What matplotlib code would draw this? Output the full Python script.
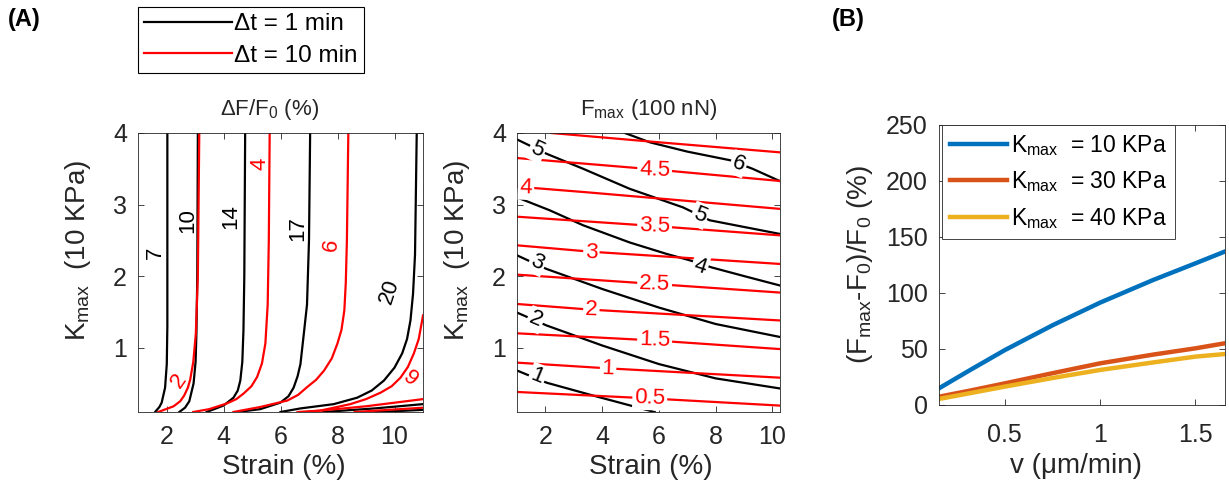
import matplotlib
matplotlib.use('Agg')
import matplotlib.pyplot as plt
from matplotlib.lines import Line2D

plt.rcParams['font.family'] = ['Liberation Sans', 'DejaVu Sans']
plt.rcParams['mathtext.fontset'] = 'custom'
plt.rcParams['mathtext.rm'] = 'Liberation Sans'
plt.rcParams['mathtext.it'] = 'Liberation Sans:italic'
plt.rcParams['mathtext.bf'] = 'Liberation Sans:bold'

GRAY = '#262626'

# ---- (A) left: dF/F0 (%) contours, x = strain (%), y = Kmax (10 KPa) ----
# dt = 1 min (black)
dF_1min_7 = [(1.60, 0.10), (1.75, 0.17), (1.83, 0.23), (1.95, 0.44), (2.01, 0.77), (2.03, 1.30), (2.03, 4.0)]
dF_1min_10 = [(2.45, 0.10), (2.65, 0.16), (2.80, 0.25), (2.95, 0.50), (3.02, 0.80), (3.05, 1.20),
              (3.08, 2.0), (3.10, 4.0)]
dF_1min_14 = [(3.41, 0.10), (4.0, 0.19), (4.35, 0.30), (4.50, 0.40), (4.59, 0.54), (4.66, 0.80),
              (4.70, 1.24), (4.73, 2.0), (4.76, 4.0)]
dF_1min_17 = [(4.50, 0.10), (5.29, 0.14), (5.99, 0.23), (6.28, 0.32), (6.46, 0.44), (6.60, 0.60),
              (6.70, 0.77), (6.82, 1.20), (6.93, 1.60), (7.0, 2.50), (7.04, 4.0)]
dF_1min_20 = [(6.0, 0.10), (6.70, 0.15), (7.87, 0.21), (8.69, 0.30), (9.20, 0.40), (9.63, 0.54),
              (10.0, 0.72), (10.27, 0.92), (10.44, 1.12), (10.56, 1.38), (10.65, 1.75), (10.72, 2.30),
              (10.78, 4.0)]
dF_1min_b1 = [(7.5, 0.10), (9.3, 0.15), (11.0, 0.21)]
dF_1min_b2 = [(9.3, 0.10), (10.2, 0.115), (11.0, 0.13)]
# dt = 10 min (red)
dF_10min_2 = [(1.71, 0.10), (2.25, 0.18), (2.48, 0.25), (2.62, 0.33), (2.75, 0.44), (2.83, 0.55),
              (2.94, 0.80), (3.03, 1.20), (3.10, 2.0), (3.15, 4.0)]
dF_10min_4 = [(2.94, 0.10), (3.50, 0.14), (4.12, 0.22), (4.45, 0.28), (4.71, 0.36), (4.98, 0.46),
              (5.18, 0.59), (5.35, 0.78), (5.47, 1.06), (5.55, 1.60), (5.59, 2.50), (5.62, 4.0)]
dF_10min_6 = [(4.35, 0.10), (5.29, 0.17), (6.24, 0.26), (6.62, 0.34), (6.94, 0.45), (7.25, 0.55),
              (7.53, 0.68), (7.80, 0.85), (8.0, 1.06), (8.14, 1.25), (8.24, 1.52), (8.29, 1.90),
              (8.33, 2.50), (8.38, 4.0)]
dF_10min_9 = [(6.6, 0.10), (7.40, 0.12), (8.45, 0.21), (9.0, 0.28), (9.51, 0.37), (9.90, 0.46),
              (10.21, 0.58), (10.47, 0.73), (10.68, 0.92), (10.85, 1.12), (10.97, 1.38), (11.0, 1.45)]
dF_10min_b1 = [(6.9, 0.10), (9.0, 0.18), (11.0, 0.28)]
dF_10min_b2 = [(8.6, 0.10), (9.8, 0.13), (11.0, 0.16)]

dF_1min_labels = [(1.62, 2.32, '7', 90), (2.74, 2.78, '10', 90), (4.24, 2.83, '14', 90),
                  (6.61, 2.66, '17', 90), (9.84, 1.78, '20', 72)]
dF_10min_labels = [(2.44, 0.53, '2', 55), (5.29, 3.57, '4', 90), (7.79, 2.43, '6', 82),
                   (10.54, 0.57, '9', -40)]

# ---- (A) right: Fmax (100 nN) contours ----
Fm_1min_1 = [(1.0, 0.68), (2.04, 0.51), (3.68, 0.33), (5.85, 0.10)]
Fm_1min_2 = [(1.0, 1.49), (2.04, 1.31), (4.0, 1.03), (6.0, 0.77), (8.0, 0.57), (10.25, 0.43)]
Fm_1min_3 = [(1.0, 2.29), (2.04, 2.10), (4.0, 1.82), (6.0, 1.56), (8.0, 1.33), (10.25, 1.15)]
Fm_1min_4 = [(1.0, 3.10), (2.15, 2.92), (3.33, 2.71), (4.97, 2.47), (6.27, 2.31), (7.09, 2.22),
             (7.87, 2.12), (9.0, 2.0), (10.25, 1.87)]
Fm_1min_5 = [(1.0, 3.91), (2.04, 3.71), (3.33, 3.50), (4.97, 3.22), (6.85, 2.96), (7.79, 2.78),
             (10.25, 2.59)]
Fm_1min_6 = [(4.80, 4.0), (5.68, 3.87), (7.0, 3.74), (8.5, 3.62), (9.3, 3.50), (10.25, 3.33)]
Fm_10min_05 = [(1.0, 0.38), (5.68, 0.29), (10.25, 0.19)]
Fm_10min_1 = [(1.0, 0.79), (4.21, 0.71), (10.25, 0.58)]
Fm_10min_15 = [(1.0, 1.20), (5.85, 1.10), (10.25, 0.98)]
Fm_10min_2 = [(1.0, 1.61), (3.62, 1.53), (10.25, 1.38)]
Fm_10min_25 = [(1.0, 2.02), (5.85, 1.89), (10.25, 1.77)]
Fm_10min_3 = [(1.0, 2.43), (3.62, 2.34), (10.25, 2.17)]
Fm_10min_35 = [(1.0, 2.83), (5.85, 2.70), (10.25, 2.57)]
Fm_10min_4 = [(1.0, 3.25), (3.5, 3.17), (10.25, 2.94)]
Fm_10min_45 = [(1.0, 3.65), (5.85, 3.49), (10.25, 3.33)]
Fm_10min_5 = [(2.21, 4.0), (6.0, 3.87), (10.25, 3.73)]

Fm_1min_labels = [(1.72, 0.60, '1', -22), (1.65, 1.39, '2', -23), (1.72, 2.19, '3', -24),
                  (1.72, 3.77, '5', -25), (7.44, 2.13, '4', -18), (7.44, 2.85, '5', -22),
                  (8.81, 3.57, '6', -21)]
Fm_10min_labels = [(5.68, 0.30, '0.5', -2), (4.21, 0.71, '1', -2), (5.85, 1.10, '1.5', -2),
                   (3.62, 1.53, '2', -2), (5.85, 1.89, '2.5', -2), (3.62, 2.33, '3', -2),
                   (5.85, 2.70, '3.5', -2), (1.32, 3.24, '4', -2), (5.85, 3.48, '4.5', -2)]

# ---- (B) (Fmax-F0)/F0 (%) vs v (um/min) ----
v = [0.155, 0.316, 0.5, 0.753, 1.0, 1.278, 1.5, 1.654]
gain_k10 = [14.9, 31.0, 49.0, 71.4, 91.4, 111.6, 126.5, 137.0]
gain_k30 = [7.4, 12.8, 19.3, 28.5, 37.2, 45.0, 50.6, 55.1]
gain_k40 = [5.4, 10.5, 16.4, 24.2, 31.3, 38.0, 43.2, 45.5]
kmax_labels = [r'K$_\mathregular{max}$  = 10 KPa', r'K$_\mathregular{max}$  = 30 KPa',
               r'K$_\mathregular{max}$  = 40 KPa']
kmax_colors = ['#0072BD', '#D95319', '#EDB120']


def style_axes(ax, xpad, ypad):
    ax.tick_params(direction='in', length=4, width=0.6, top=True, right=True,
                   colors=GRAY, labelsize=18)
    ax.tick_params(axis='x', pad=xpad)
    ax.tick_params(axis='y', pad=ypad)
    for s in ax.spines.values():
        s.set_color(GRAY)
        s.set_linewidth(0.6)


def draw_lines(ax, lines, color):
    for pts in lines:
        xs, ys = zip(*pts)
        ax.plot(xs, ys, color=color, lw=1.6)


fig = plt.figure(figsize=(12.29, 4.87), dpi=100)
W, H = 1229.0, 487.0

# panel A left
ax1 = fig.add_axes([138 / W, 1 - 412 / H, 285 / W, 279 / H])
draw_lines(ax1, [dF_1min_7, dF_1min_10, dF_1min_14, dF_1min_17, dF_1min_20, dF_1min_b1, dF_1min_b2], 'k')
draw_lines(ax1, [dF_10min_2, dF_10min_4, dF_10min_6, dF_10min_9, dF_10min_b1, dF_10min_b2], 'r')
for x, y, t, r in dF_1min_labels:
    ax1.text(x, y, t, color='k', fontsize=16, rotation=r, ha='center', va='center')
for x, y, t, r in dF_10min_labels:
    ax1.text(x, y, t, color='r', fontsize=16, rotation=r, ha='center', va='center')
ax1.set_xlim(1, 11)
ax1.set_ylim(0.1, 4)
ax1.set_xticks([2, 4, 6, 8, 10])
ax1.set_yticks([1, 2, 3, 4])
style_axes(ax1, 9.5, 8)
ax1.set_title('ΔF/F$_\\mathregular{0}$ (%)', fontsize=16, color=GRAY, pad=13, x=0.46)
ax1.set_xlabel('Strain (%)', fontsize=20, color=GRAY)
ax1.xaxis.set_label_coords(0.51, -0.15)
ax1.set_ylabel(r'K$_\mathregular{max}$  (10 KPa)', fontsize=20, color=GRAY)
ax1.yaxis.set_label_coords(-45 / 285, 0.58)

# panel A right
ax2 = fig.add_axes([517 / W, 1 - 412 / H, 262.5 / W, 279 / H])
draw_lines(ax2, [Fm_1min_1, Fm_1min_2, Fm_1min_3, Fm_1min_4, Fm_1min_5, Fm_1min_6], 'k')
draw_lines(ax2, [Fm_10min_05, Fm_10min_1, Fm_10min_15, Fm_10min_2, Fm_10min_25,
                 Fm_10min_3, Fm_10min_35, Fm_10min_4, Fm_10min_45, Fm_10min_5], 'r')
box = dict(facecolor='white', edgecolor='none', pad=1.5)
for x, y, t, r in Fm_1min_labels:
    ax2.text(x, y, t, color='k', fontsize=16, rotation=r, ha='center', va='center', bbox=box)
for x, y, t, r in Fm_10min_labels:
    ax2.text(x, y, t, color='r', fontsize=16, rotation=r, ha='center', va='center', bbox=box)
ax2.set_xlim(1, 10.25)
ax2.set_ylim(0.1, 4)
ax2.set_xticks([2, 4, 6, 8, 10])
ax2.set_yticks([1, 2, 3, 4])
style_axes(ax2, 9.5, 8)
ax2.set_title('F$_\\mathregular{max}$ (100 nN)', fontsize=16, color=GRAY, pad=13)
ax2.set_xlabel('Strain (%)', fontsize=20, color=GRAY)
ax2.xaxis.set_label_coords(0.51, -0.15)
ax2.set_ylabel(r'K$_\mathregular{max}$  (10 KPa)', fontsize=20, color=GRAY)
ax2.yaxis.set_label_coords(-45 / 262.5, 0.58)

# panel B
ax3 = fig.add_axes([939 / W, 1 - 405 / H, 286 / W, 280 / H])
for ys, lab, c in zip([gain_k10, gain_k30, gain_k40], kmax_labels, kmax_colors):
    ax3.plot(v, ys, color=c, lw=3.2, label=lab)
ax3.set_xlim(0.155, 1.655)
ax3.set_ylim(0, 250)
ax3.set_xticks([0.5, 1, 1.5])
ax3.set_xticklabels(['0.5', '1', '1.5'])
ax3.set_yticks([0, 50, 100, 150, 200, 250])
style_axes(ax3, 13, 8)
ax3.set_xlabel('v (μm/min)', fontsize=20, color=GRAY)
ax3.xaxis.set_label_coords(0.48, -0.17)
ax3.set_ylabel(r'(F$_\mathregular{max}$-F$_\mathregular{0}$)/F$_\mathregular{0}$ (%)', fontsize=20, color=GRAY)
ax3.yaxis.set_label_coords(-64 / 286, 0.5)
legB = ax3.legend(loc='upper left', bbox_to_anchor=(0.01, 1.0), borderaxespad=0, fontsize=16.5,
                  handlelength=2.5, handletextpad=0.15, labelspacing=0.5, borderpad=0.35,
                  fancybox=False, edgecolor=GRAY, framealpha=1)
legB.get_frame().set_linewidth(0.6)

# legend for panel A
hA = [Line2D([], [], color='k', lw=1.6), Line2D([], [], color='r', lw=1.6)]
legA = fig.legend(hA, ['Δt = 1 min', 'Δt = 10 min'], loc='upper left',
                  bbox_to_anchor=(138 / W, 1 - 7 / H), borderaxespad=0, fontsize=17.5,
                  handlelength=3.6, handletextpad=0.12, labelspacing=0.4, borderpad=0.25,
                  fancybox=False, edgecolor='k', framealpha=1)
legA.get_frame().set_linewidth(0.8)

fig.text(8 / W, 1 - 8 / H, '(A)', fontsize=17, fontweight='bold', ha='left', va='top')
fig.text(832 / W, 1 - 8 / H, '(B)', fontsize=17, fontweight='bold', ha='left', va='top')

fig.savefig('out.png', dpi=100)
